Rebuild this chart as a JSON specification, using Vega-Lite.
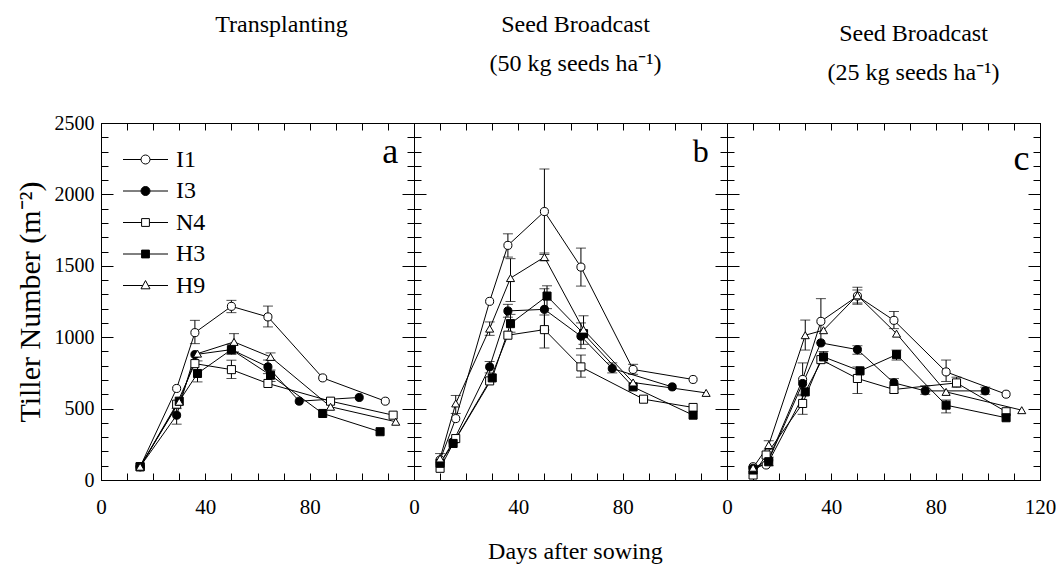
{
"$schema": "https://vega.github.io/schema/vega-lite/v6.json",
"background": "white",
"padding": {"left": 14, "top": 12, "right": 0, "bottom": 5},
"bounds": "flush",
"spacing": 0,
"title": {"text": "Days after sowing", "orient": "bottom", "anchor": "middle", "fontSize": 24, "offset": 22, "dx": 40},
"data": {"values": [
{"panel":"a","series":"I1","day":15,"value":93},
{"panel":"a","series":"I1","day":29,"value":641},
{"panel":"a","series":"I1","day":36,"value":1032,"lo":955,"hi":1118},
{"panel":"a","series":"I1","day":50,"value":1216,"lo":1172,"hi":1258},
{"panel":"a","series":"I1","day":64,"value":1142,"lo":1072,"hi":1218},
{"panel":"a","series":"I1","day":85,"value":715},
{"panel":"a","series":"I1","day":109,"value":552},
{"panel":"a","series":"I3","day":15,"value":93},
{"panel":"a","series":"I3","day":29,"value":454,"lo":391,"hi":500},
{"panel":"a","series":"I3","day":36,"value":878},
{"panel":"a","series":"I3","day":50,"value":913,"lo":880,"hi":950},
{"panel":"a","series":"I3","day":64,"value":792,"lo":745,"hi":840},
{"panel":"a","series":"I3","day":76,"value":552},
{"panel":"a","series":"I3","day":99,"value":578},
{"panel":"a","series":"N4","day":15,"value":93},
{"panel":"a","series":"N4","day":29,"value":531},
{"panel":"a","series":"N4","day":36,"value":815},
{"panel":"a","series":"N4","day":50,"value":773,"lo":711,"hi":839},
{"panel":"a","series":"N4","day":64,"value":676},
{"panel":"a","series":"N4","day":88,"value":552},
{"panel":"a","series":"N4","day":112,"value":454},
{"panel":"a","series":"H3","day":15,"value":93},
{"panel":"a","series":"H3","day":30,"value":552},
{"panel":"a","series":"H3","day":37,"value":746,"lo":687,"hi":834},
{"panel":"a","series":"H3","day":50,"value":913},
{"panel":"a","series":"H3","day":65,"value":734,"lo":690,"hi":770},
{"panel":"a","series":"H3","day":85,"value":466},
{"panel":"a","series":"H3","day":107,"value":338},
{"panel":"a","series":"H9","day":15,"value":93},
{"panel":"a","series":"H9","day":30,"value":548},
{"panel":"a","series":"H9","day":37,"value":885},
{"panel":"a","series":"H9","day":51,"value":967,"lo":897,"hi":1025},
{"panel":"a","series":"H9","day":65,"value":862,"lo":839,"hi":890},
{"panel":"a","series":"H9","day":88,"value":513},
{"panel":"a","series":"H9","day":113,"value":408},
{"panel":"b","series":"I1","day":10,"value":140},
{"panel":"b","series":"I1","day":16,"value":430},
{"panel":"b","series":"I1","day":29,"value":1251},
{"panel":"b","series":"I1","day":36,"value":1643,"lo":1561,"hi":1724},
{"panel":"b","series":"I1","day":50,"value":1880,"lo":1580,"hi":2178},
{"panel":"b","series":"I1","day":64,"value":1491,"lo":1358,"hi":1624},
{"panel":"b","series":"I1","day":84,"value":774,"lo":740,"hi":810},
{"panel":"b","series":"I1","day":107,"value":704},
{"panel":"b","series":"I3","day":10,"value":117},
{"panel":"b","series":"I3","day":15,"value":268},
{"panel":"b","series":"I3","day":29,"value":792,"lo":750,"hi":830},
{"panel":"b","series":"I3","day":36,"value":1184,"lo":1140,"hi":1230},
{"panel":"b","series":"I3","day":50,"value":1195,"lo":1050,"hi":1340},
{"panel":"b","series":"I3","day":64,"value":1007,"lo":920,"hi":1100},
{"panel":"b","series":"I3","day":76,"value":781,"lo":750,"hi":820},
{"panel":"b","series":"I3","day":99,"value":652},
{"panel":"b","series":"N4","day":10,"value":82},
{"panel":"b","series":"N4","day":16,"value":290},
{"panel":"b","series":"N4","day":29,"value":694},
{"panel":"b","series":"N4","day":36,"value":1014},
{"panel":"b","series":"N4","day":50,"value":1053,"lo":925,"hi":1155},
{"panel":"b","series":"N4","day":64,"value":792,"lo":720,"hi":875},
{"panel":"b","series":"N4","day":88,"value":566},
{"panel":"b","series":"N4","day":107,"value":508},
{"panel":"b","series":"H3","day":10,"value":117},
{"panel":"b","series":"H3","day":15,"value":256},
{"panel":"b","series":"H3","day":30,"value":715},
{"panel":"b","series":"H3","day":37,"value":1095,"lo":1035,"hi":1160},
{"panel":"b","series":"H3","day":51,"value":1288,"lo":1200,"hi":1360},
{"panel":"b","series":"H3","day":65,"value":1025},
{"panel":"b","series":"H3","day":84,"value":652},
{"panel":"b","series":"H3","day":107,"value":454},
{"panel":"b","series":"H9","day":10,"value":151,"lo":120,"hi":185},
{"panel":"b","series":"H9","day":16,"value":536,"lo":466,"hi":592},
{"panel":"b","series":"H9","day":29,"value":1060,"lo":1013,"hi":1107},
{"panel":"b","series":"H9","day":37,"value":1414,"lo":1250,"hi":1550},
{"panel":"b","series":"H9","day":50,"value":1561,"lo":1535,"hi":1590},
{"panel":"b","series":"H9","day":65,"value":1053,"lo":950,"hi":1150},
{"panel":"b","series":"H9","day":84,"value":683},
{"panel":"b","series":"H9","day":112,"value":610},
{"panel":"c","series":"I1","day":10,"value":93},
{"panel":"c","series":"I1","day":15,"value":105},
{"panel":"c","series":"I1","day":29,"value":704,"lo":590,"hi":820},
{"panel":"c","series":"I1","day":36,"value":1111,"lo":960,"hi":1270},
{"panel":"c","series":"I1","day":50,"value":1288,"lo":1230,"hi":1350},
{"panel":"c","series":"I1","day":64,"value":1118,"lo":1060,"hi":1180},
{"panel":"c","series":"I1","day":84,"value":757,"lo":690,"hi":840},
{"panel":"c","series":"I1","day":107,"value":601},
{"panel":"c","series":"I3","day":10,"value":82},
{"panel":"c","series":"I3","day":16,"value":140},
{"panel":"c","series":"I3","day":29,"value":676},
{"panel":"c","series":"I3","day":36,"value":960},
{"panel":"c","series":"I3","day":50,"value":913,"lo":880,"hi":940},
{"panel":"c","series":"I3","day":64,"value":680,"lo":650,"hi":710},
{"panel":"c","series":"I3","day":76,"value":624,"lo":600,"hi":660},
{"panel":"c","series":"I3","day":99,"value":624,"lo":600,"hi":650},
{"panel":"c","series":"N4","day":10,"value":35},
{"panel":"c","series":"N4","day":15,"value":175},
{"panel":"c","series":"N4","day":29,"value":536,"lo":460,"hi":600},
{"panel":"c","series":"N4","day":36,"value":843},
{"panel":"c","series":"N4","day":50,"value":711,"lo":606,"hi":792},
{"panel":"c","series":"N4","day":64,"value":634,"lo":610,"hi":665},
{"panel":"c","series":"N4","day":88,"value":680,"lo":650,"hi":720},
{"panel":"c","series":"N4","day":107,"value":478},
{"panel":"c","series":"H3","day":10,"value":70},
{"panel":"c","series":"H3","day":16,"value":128,"lo":100,"hi":160},
{"panel":"c","series":"H3","day":30,"value":617},
{"panel":"c","series":"H3","day":37,"value":862,"lo":820,"hi":900},
{"panel":"c","series":"H3","day":51,"value":764},
{"panel":"c","series":"H3","day":65,"value":878,"lo":840,"hi":910},
{"panel":"c","series":"H3","day":84,"value":524,"lo":470,"hi":560},
{"panel":"c","series":"H3","day":107,"value":436},
{"panel":"c","series":"H9","day":10,"value":86},
{"panel":"c","series":"H9","day":16,"value":245,"lo":215,"hi":275},
{"panel":"c","series":"H9","day":30,"value":1014,"lo":910,"hi":1120},
{"panel":"c","series":"H9","day":37,"value":1049},
{"panel":"c","series":"H9","day":50,"value":1293,"lo":1240,"hi":1330},
{"panel":"c","series":"H9","day":65,"value":1025},
{"panel":"c","series":"H9","day":84,"value":617},
{"panel":"c","series":"H9","day":113,"value":489}
]},
"hconcat": [
{
 "width": 313, "height": 357,
 "title": {"text": ["Transplanting", " "], "fontSize": 24, "lineHeight": 39, "anchor": "middle", "dx": 24, "dy": 10, "offset": 47},
 "transform": [{"filter": "datum.panel === 'a'"}],
 "layer": [
  {
   "encoding": {
    "x": {"field": "day", "type": "quantitative", "scale": {"domain": [0, 120], "nice": false, "zero": false}, "axis": null},
    "y": {"field": "value", "type": "quantitative", "scale": {"domain": [0, 2500], "nice": false}, "axis": null}
   },
   "layer": [
    {"mark": {"type": "line", "color": "black", "strokeWidth": 1}, "encoding": {"detail": {"field": "series"}}},
    {"transform": [{"filter": "isValid(datum.lo)"}], "mark": {"type": "errorbar", "ticks": {"size": 10, "color": "black"}, "rule": {"color": "black"}, "thickness": 1},
     "encoding": {"y": {"field": "lo", "type": "quantitative", "axis": null}, "y2": {"field": "hi"}}},
    {"mark": {"type": "point", "filled": true, "stroke": "black", "strokeWidth": 1, "size": 65, "opacity": 1},
     "encoding": {
      "shape": {"field": "series", "type": "nominal", "scale": {"domain": ["I1","I3","N4","H3","H9"], "range": ["circle","circle","square","square","triangle-up"]}, "legend": null},
      "fill": {"field": "series", "type": "nominal", "scale": {"domain": ["I1","I3","N4","H3","H9"], "range": ["white","black","white","black","white"]}, "legend": null}
     }},
    {"data": {"values": [{"panel": "a", "variety": "I1"}, {"panel": "a", "variety": "I3"}, {"panel": "a", "variety": "N4"}, {"panel": "a", "variety": "H3"}, {"panel": "a", "variety": "H9"}]},
     "mark": {"type": "point", "filled": true, "opacity": 0},
     "encoding": {
      "shape": {"field": "variety", "type": "nominal", "scale": {"domain": ["I1","I3","N4","H3","H9"], "range": [
        "M-1.5,0H-0.3M0.3,0H1.5M-0.3,0A0.3,0.3,0,1,0,0.3,0A0.3,0.3,0,1,0,-0.3,0Z",
        "M-1.5,0H-0.3M0.3,0H1.5M-0.3,0A0.3,0.3,0,1,0,0.3,0A0.3,0.3,0,1,0,-0.3,0Z",
        "M-1.5,0H-0.26M0.26,0H1.5M-0.26,-0.26H0.26V0.26H-0.26Z",
        "M-1.5,0H-0.26M0.26,0H1.5M-0.26,-0.26H0.26V0.26H-0.26Z",
        "M-1.5,0H-0.18M0.18,0H1.5M0,-0.33L0.3,0.22L-0.3,0.22Z"]},
       "legend": {"title": null, "orient": "none", "legendX": 29, "legendY": 21, "padding": 0, "symbolSize": 900, "symbolStrokeColor": "black", "symbolStrokeWidth": 1, "symbolOpacity": 1, "labelFontSize": 24, "labelFont": "Liberation Serif", "labelColor": "black", "labelOffset": 15, "rowPadding": 3.5}},
      "fill": {"field": "variety", "type": "nominal", "scale": {"domain": ["I1","I3","N4","H3","H9"], "range": ["white","black","white","black","white"]},
       "legend": {"title": null, "orient": "none", "legendX": 29, "legendY": 21, "padding": 0, "symbolSize": 900, "symbolStrokeColor": "black", "symbolStrokeWidth": 1, "symbolOpacity": 1, "labelFontSize": 24, "labelFont": "Liberation Serif", "labelColor": "black", "labelOffset": 15, "rowPadding": 3.5}},
      "stroke": {"field": "variety", "type": "nominal", "scale": {"domain": ["I1","I3","N4","H3","H9"], "range": ["black","black","black","black","black"]},
       "legend": {"title": null, "orient": "none", "legendX": 29, "legendY": 21, "padding": 0, "symbolSize": 900, "symbolStrokeColor": "black", "symbolStrokeWidth": 1, "symbolOpacity": 1, "labelFontSize": 24, "labelFont": "Liberation Serif", "labelColor": "black", "labelOffset": 15, "rowPadding": 3.5}}
     }}
   ],
   "resolve": {"scale": {"shape": "independent", "fill": "independent", "stroke": "independent"}}
  },
  {"transform": [{"aggregate": [{"op": "count", "as": "n"}], "groupby": ["panel"]}],
   "mark": {"type": "text", "fontSize": 36, "align": "right", "baseline": "alphabetic", "font": "Liberation Serif", "color": "black"},
   "encoding": {"text": {"field": "panel", "type": "nominal"},
    "x": {"datum": 114, "type": "quantitative", "scale": {"domain": [0, 120], "nice": false, "zero": false}, "axis": null},
    "y": {"datum": 2220, "type": "quantitative", "scale": {"domain": [0, 2500], "nice": false}, "axis": null}}},
  {"mark": {"type": "point", "opacity": 0},
   "encoding": {
    "x": {"field": "day", "type": "quantitative", "axis": {"orient": "bottom", "values": [0,10,20,30,40,50,60,70,80,90,100,110,120], "format": "d", "tickSize": -7, "labelExpr": "datum.value % 40 === 0 && datum.value < 120 ? datum.label : ''", "labelFlush": false, "labelOverlap": false, "labelFontSize": 21, "labelPadding": 23, "title": null}},
    "y": {"field": "value", "type": "quantitative", "axis": {"orient": "left", "values": [0,100,200,300,400,500,600,700,800,900,1000,1100,1200,1300,1400,1500,1600,1700,1800,1900,2000,2100,2200,2300,2400,2500], "format": "d", "tickSize": {"condition": {"test": "datum.value % 500 === 0", "value": -12}, "value": -7}, "labelExpr": "datum.value % 500 === 0 ? datum.label : ''", "labelOverlap": false, "labelFontSize": 20, "labelPadding": 19, "title": "Tiller Number (m⁻²)", "titleFontSize": 30, "titlePadding": 9}}
   }},
  {"mark": {"type": "point", "opacity": 0},
   "encoding": {
    "x": {"field": "day", "type": "quantitative", "axis": {"orient": "top", "values": [0,10,20,30,40,50,60,70,80,90,100,110,120], "tickSize": -7, "labels": false, "title": null}},
    "y": {"field": "value", "type": "quantitative", "axis": {"orient": "right", "values": [0,100,200,300,400,500,600,700,800,900,1000,1100,1200,1300,1400,1500,1600,1700,1800,1900,2000,2100,2200,2300,2400,2500], "tickSize": {"condition": {"test": "datum.value % 500 === 0", "value": -12}, "value": -7}, "labels": false, "title": null}}
   }}
 ],
 "resolve": {"axis": {"x": "independent", "y": "independent"}}
},
{
 "width": 313, "height": 357,
 "title": {"text": ["Seed Broadcast", "(50 kg seeds ha⁻¹)"], "fontSize": 24, "lineHeight": 39, "anchor": "middle", "dx": 5, "offset": 47},
 "transform": [{"filter": "datum.panel === 'b'"}],
 "layer": [
  {
   "encoding": {
    "x": {"field": "day", "type": "quantitative", "scale": {"domain": [0, 120], "nice": false, "zero": false}, "axis": null},
    "y": {"field": "value", "type": "quantitative", "scale": {"domain": [0, 2500], "nice": false}, "axis": null}
   },
   "layer": [
    {"mark": {"type": "line", "color": "black", "strokeWidth": 1}, "encoding": {"detail": {"field": "series"}}},
    {"transform": [{"filter": "isValid(datum.lo)"}], "mark": {"type": "errorbar", "ticks": {"size": 10, "color": "black"}, "rule": {"color": "black"}, "thickness": 1},
     "encoding": {"y": {"field": "lo", "type": "quantitative", "axis": null}, "y2": {"field": "hi"}}},
    {"mark": {"type": "point", "filled": true, "stroke": "black", "strokeWidth": 1, "size": 65, "opacity": 1},
     "encoding": {
      "shape": {"field": "series", "type": "nominal", "scale": {"domain": ["I1","I3","N4","H3","H9"], "range": ["circle","circle","square","square","triangle-up"]}, "legend": null},
      "fill": {"field": "series", "type": "nominal", "scale": {"domain": ["I1","I3","N4","H3","H9"], "range": ["white","black","white","black","white"]}, "legend": null}
     }}
   ]
  },
  {"transform": [{"aggregate": [{"op": "count", "as": "n"}], "groupby": ["panel"]}],
   "mark": {"type": "text", "fontSize": 32, "align": "right", "baseline": "alphabetic", "font": "Liberation Serif", "color": "black"},
   "encoding": {"text": {"field": "panel", "type": "nominal"},
    "x": {"datum": 113, "type": "quantitative", "scale": {"domain": [0, 120], "nice": false, "zero": false}, "axis": null},
    "y": {"datum": 2227, "type": "quantitative", "scale": {"domain": [0, 2500], "nice": false}, "axis": null}}},
  {"mark": {"type": "point", "opacity": 0},
   "encoding": {
    "x": {"field": "day", "type": "quantitative", "axis": {"orient": "bottom", "values": [0,10,20,30,40,50,60,70,80,90,100,110,120], "format": "d", "tickSize": -7, "labelExpr": "datum.value % 40 === 0 && datum.value < 120 ? datum.label : ''", "labelFlush": false, "labelOverlap": false, "labelFontSize": 21, "labelPadding": 23, "title": null}},
    "y": {"field": "value", "type": "quantitative", "axis": {"orient": "left", "values": [0,100,200,300,400,500,600,700,800,900,1000,1100,1200,1300,1400,1500,1600,1700,1800,1900,2000,2100,2200,2300,2400,2500], "tickSize": {"condition": {"test": "datum.value % 500 === 0", "value": -12}, "value": -7}, "labels": false, "title": null}}
   }},
  {"mark": {"type": "point", "opacity": 0},
   "encoding": {
    "x": {"field": "day", "type": "quantitative", "axis": {"orient": "top", "values": [0,10,20,30,40,50,60,70,80,90,100,110,120], "tickSize": -7, "labels": false, "title": null}},
    "y": {"field": "value", "type": "quantitative", "axis": {"orient": "right", "values": [0,100,200,300,400,500,600,700,800,900,1000,1100,1200,1300,1400,1500,1600,1700,1800,1900,2000,2100,2200,2300,2400,2500], "tickSize": {"condition": {"test": "datum.value % 500 === 0", "value": -12}, "value": -7}, "labels": false, "title": null}}
   }}
 ],
 "resolve": {"axis": {"x": "independent", "y": "independent"}}
},
{
 "width": 313, "height": 357,
 "title": {"text": ["Seed Broadcast", "(25 kg seeds ha⁻¹)"], "fontSize": 24, "lineHeight": 39, "anchor": "middle", "dx": 30, "dy": 9, "offset": 47},
 "transform": [{"filter": "datum.panel === 'c'"}],
 "layer": [
  {
   "encoding": {
    "x": {"field": "day", "type": "quantitative", "scale": {"domain": [0, 120], "nice": false, "zero": false}, "axis": null},
    "y": {"field": "value", "type": "quantitative", "scale": {"domain": [0, 2500], "nice": false}, "axis": null}
   },
   "layer": [
    {"mark": {"type": "line", "color": "black", "strokeWidth": 1}, "encoding": {"detail": {"field": "series"}}},
    {"transform": [{"filter": "isValid(datum.lo)"}], "mark": {"type": "errorbar", "ticks": {"size": 10, "color": "black"}, "rule": {"color": "black"}, "thickness": 1},
     "encoding": {"y": {"field": "lo", "type": "quantitative", "axis": null}, "y2": {"field": "hi"}}},
    {"mark": {"type": "point", "filled": true, "stroke": "black", "strokeWidth": 1, "size": 65, "opacity": 1},
     "encoding": {
      "shape": {"field": "series", "type": "nominal", "scale": {"domain": ["I1","I3","N4","H3","H9"], "range": ["circle","circle","square","square","triangle-up"]}, "legend": null},
      "fill": {"field": "series", "type": "nominal", "scale": {"domain": ["I1","I3","N4","H3","H9"], "range": ["white","black","white","black","white"]}, "legend": null}
     }}
   ]
  },
  {"transform": [{"aggregate": [{"op": "count", "as": "n"}], "groupby": ["panel"]}],
   "mark": {"type": "text", "fontSize": 36, "align": "right", "baseline": "alphabetic", "font": "Liberation Serif", "color": "black"},
   "encoding": {"text": {"field": "panel", "type": "nominal"},
    "x": {"datum": 116, "type": "quantitative", "scale": {"domain": [0, 120], "nice": false, "zero": false}, "axis": null},
    "y": {"datum": 2171, "type": "quantitative", "scale": {"domain": [0, 2500], "nice": false}, "axis": null}}},
  {"mark": {"type": "point", "opacity": 0},
   "encoding": {
    "x": {"field": "day", "type": "quantitative", "axis": {"orient": "bottom", "values": [0,10,20,30,40,50,60,70,80,90,100,110,120], "format": "d", "tickSize": -7, "labelExpr": "datum.value % 40 === 0 ? datum.label : ''", "labelFlush": false, "labelOverlap": false, "labelFontSize": 21, "labelPadding": 23, "title": null}},
    "y": {"field": "value", "type": "quantitative", "axis": {"orient": "left", "values": [0,100,200,300,400,500,600,700,800,900,1000,1100,1200,1300,1400,1500,1600,1700,1800,1900,2000,2100,2200,2300,2400,2500], "tickSize": {"condition": {"test": "datum.value % 500 === 0", "value": -12}, "value": -7}, "labels": false, "title": null}}
   }},
  {"mark": {"type": "point", "opacity": 0},
   "encoding": {
    "x": {"field": "day", "type": "quantitative", "axis": {"orient": "top", "values": [0,10,20,30,40,50,60,70,80,90,100,110,120], "tickSize": -7, "labels": false, "title": null}},
    "y": {"field": "value", "type": "quantitative", "axis": {"orient": "right", "values": [0,100,200,300,400,500,600,700,800,900,1000,1100,1200,1300,1400,1500,1600,1700,1800,1900,2000,2100,2200,2300,2400,2500], "tickSize": {"condition": {"test": "datum.value % 500 === 0", "value": -12}, "value": -7}, "labels": false, "title": null}}
   }}
 ],
 "resolve": {"axis": {"x": "independent", "y": "independent"}}
}
],
"resolve": {"scale": {"shape": "independent", "fill": "independent", "stroke": "independent"}, "legend": {"shape": "independent", "fill": "independent", "stroke": "independent"}},
"config": {
 "font": "Liberation Serif",
 "view": {"stroke": "black", "strokeWidth": 1},
 "axis": {"domainColor": "black", "domainWidth": 1, "tickColor": "black", "tickWidth": 1, "labelColor": "black", "titleColor": "black", "grid": false, "labelFont": "Liberation Serif", "titleFont": "Liberation Serif", "titleFontWeight": "normal"},
 "title": {"font": "Liberation Serif", "fontWeight": "normal", "color": "black"}
}
}
